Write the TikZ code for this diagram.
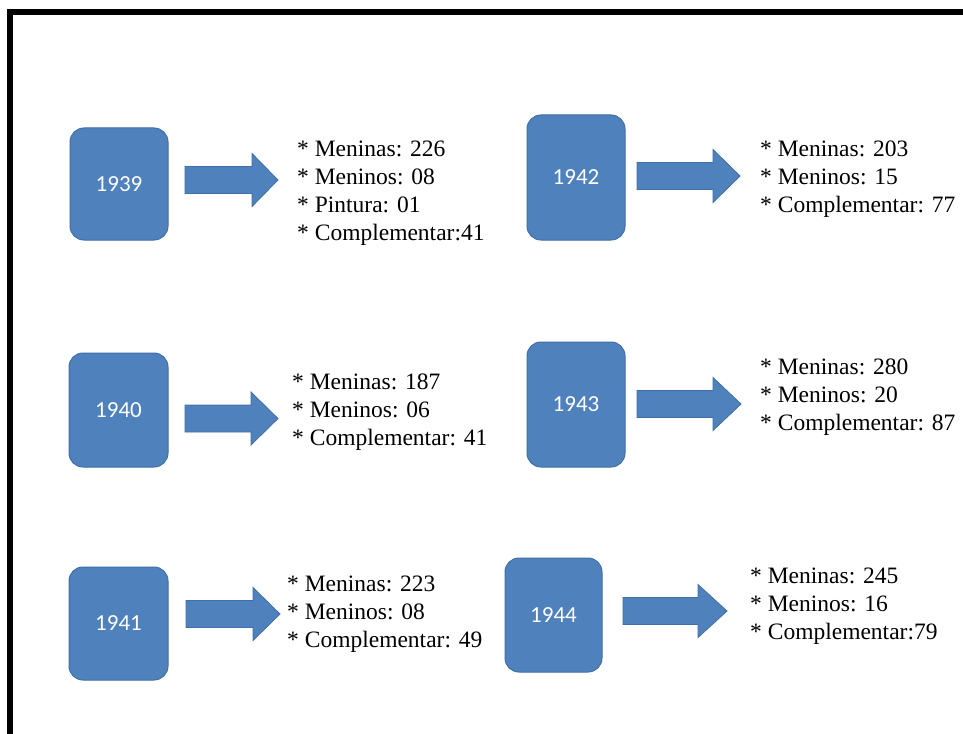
\documentclass[tikz,border=0pt]{standalone}
\usepackage{fontspec}
\setmainfont{Liberation Serif}
\newfontfamily\boxfont{Carlito}
\definecolor{boxblue}{HTML}{4F81BD}
\definecolor{boxedge}{HTML}{3F6FA6}
\newcommand\blockarr[4]{% x1, head start, tip, mid y
  \draw[barrow] (#1,#4-13.5) -- (#2,#4-13.5) -- (#2,#4-26.5) -- (#3,#4)
    -- (#2,#4+26.5) -- (#2,#4+13.5) -- (#1,#4+13.5) -- cycle;}
\begin{document}
\begin{tikzpicture}[x=1pt,y=-1pt,
  yearbox/.style={draw=boxedge, line width=1pt, fill=boxblue, rounded corners=14pt,
    text=white, font=\boxfont\fontsize{23}{23}\selectfont, inner sep=0},
  info/.style={anchor=base west, align=left, inner sep=0,
    font=\fontsize{23.5}{28}\selectfont},
  barrow/.style={fill=boxblue, draw=boxedge, line width=0.8pt, line join=miter}]
\useasboundingbox (0,0) rectangle (963,733);
\fill[white] (0,0) rectangle (963,733);
\draw[line width=6pt] (9.5,760) -- (9.5,12) -- (980,12);

% year boxes
\node[yearbox, minimum width=98pt, minimum height=112pt] (b1939) at (119,184) {1939};
\node[yearbox, minimum width=99pt, minimum height=114pt] (b1940) at (118.5,410) {1940};
\node[yearbox, minimum width=99pt, minimum height=113pt] (b1941) at (118.5,623.5) {1941};
\node[yearbox, minimum width=98pt, minimum height=125pt] (b1942) at (576,177.5) {1942};
\node[yearbox, minimum width=98pt, minimum height=125pt] (b1943) at (576,404.5) {1943};
\node[yearbox, minimum width=97pt, minimum height=114pt] (b1944) at (553.5,615) {1944};

% block arrows
\blockarr{185}{252}{278}{180}
\blockarr{185}{251}{278}{418.5}
\blockarr{186}{253}{280}{614}
\blockarr{637}{713}{740}{176}
\blockarr{637}{713}{741}{404}
\blockarr{623}{698}{727}{611}

% data texts (anchored at the baseline of the last line)
\node[info] (t1939) at (297,240) {* Meninas: 226\\* Meninos: 08\\* Pintura: 01\\* Complementar:41};
\node[info] (t1940) at (292,445) {* Meninas: 187\\* Meninos: 06\\* Complementar: 41};
\node[info] (t1941) at (287,647) {* Meninas: 223\\* Meninos: 08\\* Complementar: 49};
\node[info] (t1942) at (760,212) {* Meninas: 203\\* Meninos: 15\\* Complementar: 77};
\node[info] (t1943) at (760,430) {* Meninas: 280\\* Meninos: 20\\* Complementar: 87};
\node[info] (t1944) at (750,639) {* Meninas: 245\\* Meninos: 16\\* Complementar:79};
\end{tikzpicture}
\end{document}
